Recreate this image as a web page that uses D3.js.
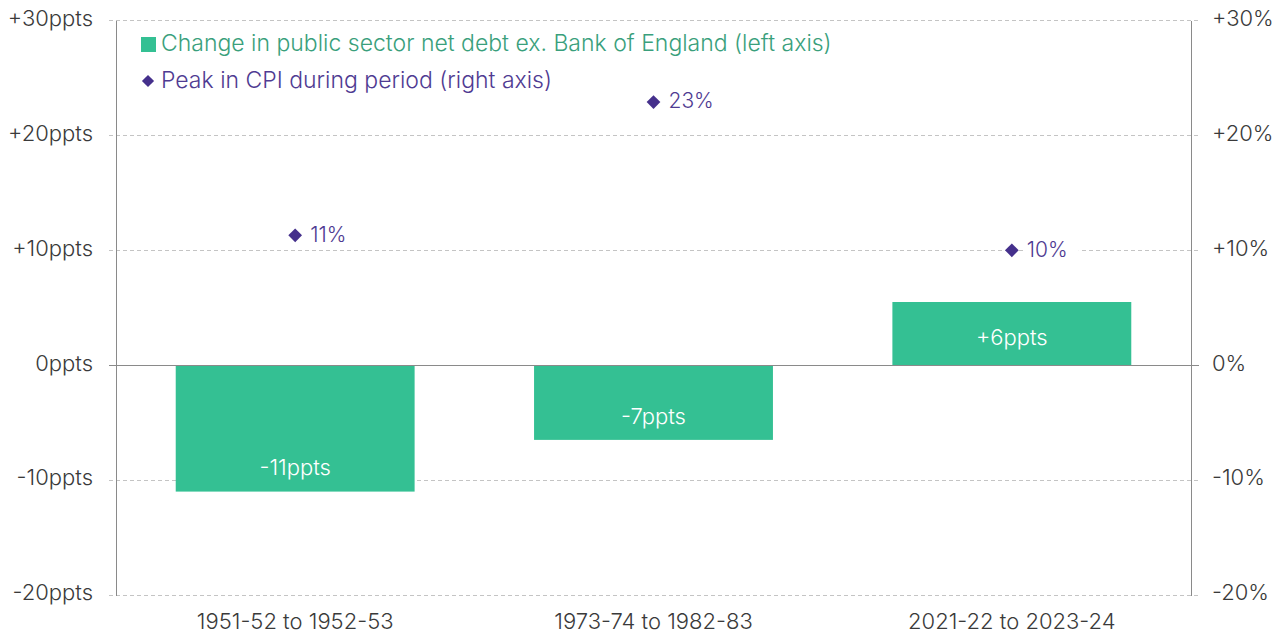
<!DOCTYPE html>
<html>
<head>
<meta charset="utf-8">
<script src="https://cdn.jsdelivr.net/npm/d3@7"></script>
<style>
  html, body { margin: 0; padding: 0; background: #fff; }
  svg { display: block; font-family: "Inter", sans-serif; font-weight: 300; }
</style>
</head>
<body>
<svg id="chart" width="1282" height="636"></svg>
<script>
const categories = ["1951-52 to 1952-53", "1973-74 to 1982-83", "2021-22 to 2023-24"];
const debtChange = [-11, -6.5, 5.5];
const debtLabels = ["-11ppts", "-7ppts", "+6ppts"];
const cpiPeak = [11.3, 22.9, 10];
const cpiLabels = ["11%", "23%", "10%"];
const leftTicks = [-20, -10, 0, 10, 20, 30];
const leftTickLabels = ["-20ppts", "-10ppts", "0ppts", "+10ppts", "+20ppts", "+30ppts"];
const rightTickLabels = ["-20%", "-10%", "0%", "+10%", "+20%", "+30%"];
const legendItems = ["Change in public sector net debt ex. Bank of England (left axis)", "Peak in CPI during period (right axis)"];

const GREEN = "#34c093", GREEN_TEXT = "#3a9f7c", PURPLE = "#45308c", PURPLE_TEXT = "#4f3b92";
const TEXT = "#3a3a3a", AXIS = "#8a8a8a", GRID = "#c4c4c4";
const FS = 22;

const svg = d3.select("#chart");
const m = { left: 116, right: 1191, top: 20.5, bottom: 595 };

const x = d3.scaleBand().domain(categories).range([m.left, m.right]).paddingInner(1/3).paddingOuter(1/6);
const y = d3.scaleLinear().domain([-20, 30]).range([m.bottom, m.top]);
const yR = d3.scaleLinear().domain([-20, 30]).range([m.bottom, m.top]);

svg.append("g").selectAll("line").data(leftTicks).join("line")
  .attr("x1", m.left - 7).attr("x2", m.right + 8)
  .attr("y1", d => y(d)).attr("y2", d => y(d))
  .attr("stroke", d => d === 0 ? AXIS : GRID)
  .attr("stroke-dasharray", d => d === 0 ? null : "4,3")
  .attr("shape-rendering", "crispEdges");

const gl = svg.append("g").attr("transform", `translate(${m.left},0)`)
  .call(d3.axisLeft(y).tickValues(leftTicks).tickFormat((d, i) => leftTickLabels[i]).tickSize(0).tickPadding(23));
gl.select(".domain").attr("stroke", AXIS).attr("shape-rendering", "crispEdges");
gl.selectAll("text").attr("fill", TEXT).attr("dy", "0.22em").style("font-size", FS + "px").style("font-family", "Inter, sans-serif");

const gr = svg.append("g").attr("transform", `translate(${m.right},0)`)
  .call(d3.axisRight(yR).tickValues(leftTicks).tickFormat((d, i) => rightTickLabels[i]).tickSize(0).tickPadding(21));
gr.select(".domain").attr("stroke", AXIS).attr("shape-rendering", "crispEdges");
gr.selectAll("text").attr("fill", TEXT).attr("dy", "0.22em").style("font-size", FS + "px").style("font-family", "Inter, sans-serif");

svg.append("g").selectAll("rect").data(categories).join("rect")
  .attr("x", d => x(d))
  .attr("width", x.bandwidth())
  .attr("y", (d, i) => y(Math.max(0, debtChange[i])))
  .attr("height", (d, i) => Math.abs(y(debtChange[i]) - y(0)))
  .attr("fill", GREEN);

svg.append("line").attr("x1", m.left - 7).attr("x2", m.right + 8)
  .attr("y1", y(0)).attr("y2", y(0)).attr("stroke", AXIS).attr("shape-rendering", "crispEdges");

svg.append("g").selectAll("text").data(categories).join("text")
  .attr("x", d => x(d) + x.bandwidth() / 2)
  .attr("y", (d, i) => debtChange[i] < 0 ? y(debtChange[i]) - 24 : y(debtChange[i]) + 35)
  .attr("text-anchor", "middle").attr("dy", "0.35em")
  .attr("fill", "#ffffff").style("font-size", FS + "px")
  .text((d, i) => debtLabels[i]);

const diamond = d3.symbol().type(d3.symbolDiamond2).size(120);
const pts = svg.append("g").selectAll("g").data(categories).join("g")
  .attr("transform", (d, i) => `translate(${x(d) + x.bandwidth() / 2},${yR(cpiPeak[i])})`);
pts.append("rect").attr("x", 12).attr("y", -12).attr("width", 55).attr("height", 24).attr("fill", "#fff");
pts.append("path").attr("d", diamond).attr("fill", PURPLE);
pts.append("text").attr("x", 15).attr("dy", "0.3em")
  .attr("fill", PURPLE_TEXT).style("font-size", "21px")
  .text((d, i) => cpiLabels[i]);

const lg = svg.append("g");
lg.append("rect").attr("x", 141).attr("y", 37).attr("width", 15).attr("height", 15).attr("fill", GREEN);
lg.append("text").attr("x", 161).attr("y", 43).attr("dy", "0.35em")
  .attr("fill", GREEN_TEXT).style("font-size", "23px").text(legendItems[0]);
lg.append("path").attr("d", d3.symbol().type(d3.symbolDiamond2).size(95))
  .attr("transform", "translate(148,81)").attr("fill", PURPLE);
lg.append("text").attr("x", 161).attr("y", 80).attr("dy", "0.35em")
  .attr("fill", PURPLE_TEXT).style("font-size", "23px").text(legendItems[1]);

svg.append("g").selectAll("text").data(categories).join("text")
  .attr("x", d => x(d) + x.bandwidth() / 2)
  .attr("y", 621).attr("dy", "0.35em")
  .attr("text-anchor", "middle").attr("fill", TEXT).style("font-size", FS + "px")
  .text(d => d);
</script>
</body>
</html>
